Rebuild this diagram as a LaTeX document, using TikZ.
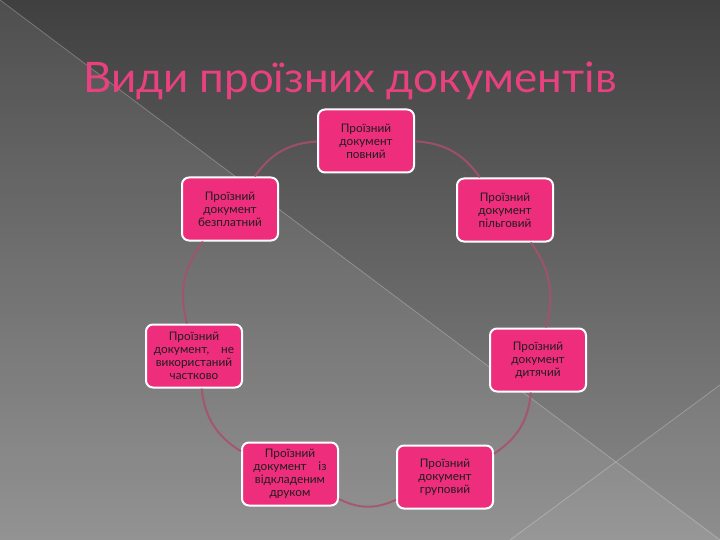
\documentclass[tikz,border=0pt]{standalone}
\usepackage{fontspec}
\setmainfont{Lato}
\newfontfamily\titlefont{Lato}
\definecolor{bgtop}{HTML}{404040}
\definecolor{bgbot}{HTML}{8A8A8A}
\definecolor{nodepink}{HTML}{EF2D7D}
\definecolor{titlepink}{HTML}{E8417F}
\definecolor{connpink}{HTML}{A9506B}
\definecolor{txtdark}{HTML}{1E1E1E}
\tikzset{
  docbox/.style={draw=white, line width=2pt, fill=nodepink, rounded corners=7pt,
    minimum width=96pt, minimum height=63pt, inner sep=2pt, align=center,
    text=txtdark, font=\fontsize{11.8pt}{13pt}\selectfont},
  conn/.style={draw=connpink, line width=2pt, opacity=0.85},
}
\begin{document}
\begin{tikzpicture}[x=1pt,y=-1pt]
\useasboundingbox (0,0) rectangle (720,540);
% background
\fill[top color=bgtop, bottom color=bgbot] (0,0) rectangle (720,540);
\fill[white, opacity=0.08] (0,0) -- (720,540) -- (0,540) -- cycle;
\fill[white, opacity=0.04] (720,385) -- (510,540) -- (720,540) -- cycle;
\draw[white, opacity=0.25, line width=0.8pt] (0,0) -- (720,540);
\draw[white, opacity=0.25, line width=0.8pt] (720,385) -- (510,540);
% title
\node[anchor=base west, text=titlepink, inner sep=0pt, font=\titlefont\fontsize{42pt}{42pt}\selectfont] (title) at (83,93) {\scalebox{1.043}[1]{Види проїзних документів}};
% nodes
\node[docbox] (n1) at (366,141) {Проїзний\\документ\\повний};
\node[docbox] (n2) at (230,209) {Проїзний\\документ\\безплатний};
\node[docbox] (n3) at (505,210) {Проїзний\\документ\\пільговий};
\node[docbox] (n4) at (194,356) {Проїзний\\документ,\quad не\\використаний\\частково};
\node[docbox] (n5) at (538,360) {Проїзний\\документ\\дитячий};
\node[docbox] (n6) at (290,474) {Проїзний\\документ\quad із\\відкладеним\\друком};
\node[docbox] (n7) at (445,477) {Проїзний\\документ\\груповий};
% connectors
\draw[conn] (n1) to[bend left=26] (n3);
\draw[conn] (n3) to[bend left=26] (n5);
\draw[conn] (n5) to[bend left=26] (n7);
\draw[conn] (n7) to[bend left=26] (n6);
\draw[conn] (n6) to[bend left=26] (n4);
\draw[conn] (n4) to[bend left=26] (n2);
\draw[conn] (n2) to[bend left=26] (n1);
\end{tikzpicture}
\end{document}
